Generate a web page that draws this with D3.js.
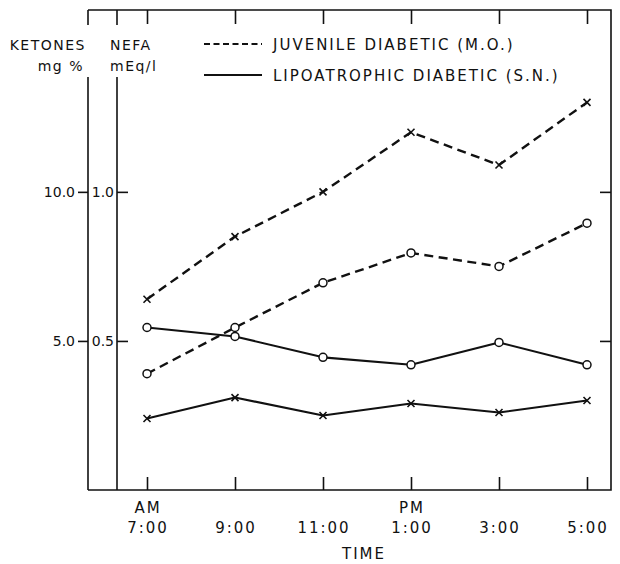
<!DOCTYPE html>
<html>
<head>
<meta charset="utf-8">
<script src="https://cdn.jsdelivr.net/npm/d3@7"></script>
<style>
  body { margin: 0; background: #fff; }
  text { font-family: "DejaVu Sans", sans-serif; fill: #111; }
</style>
</head>
<body>
<script>
// time points along the bottom
var times = ["7:00", "9:00", "11:00", "1:00", "3:00", "5:00"];
var periods = ["AM", "", "", "PM", "", ""];

// ketones (mg %) - circles, NEFA (mEq/l) - crosses
var juvKetones  = [3.9, 5.45, 6.95, 7.95, 7.5, 8.95];
var juvNefa     = [0.64, 0.85, 1.0, 1.2, 1.09, 1.3];
var lipoKetones = [5.45, 5.15, 4.45, 4.2, 4.95, 4.2];
var lipoNefa    = [0.24, 0.31, 0.25, 0.29, 0.26, 0.30];

var ketoneTicks = [5.0, 10.0];
var nefaTicks = [0.5, 1.0];

var legendLabels = ["JUVENILE DIABETIC (M.O.)", "LIPOATROPHIC DIABETIC (S.N.)"];

var W = 620, H = 564;
// frame edges (note: "top" is reserved on window, so use box.*)
var box = {left: 88, nefa: 117, right: 611, top: 10, bottom: 490};

var svg = d3.select("body").append("svg")
    .attr("width", W)
    .attr("height", H);

var x = d3.scalePoint().domain(times).range([147, 587]);
var yK = d3.scaleLinear().domain([0, 16.1]).range([box.bottom, box.top]);
var yN = d3.scaleLinear().domain([0, 1.61]).range([box.bottom, box.top]);

// frame (top, right, bottom) and the two vertical axes
var frame = svg.append("g").attr("stroke", "#111").attr("stroke-width", 1.6).attr("fill", "none");
frame.append("path").attr("d", "M" + box.left + "," + box.top + "H" + box.right + "V" + box.bottom + "H" + box.left);
frame.append("line").attr("x1", box.left).attr("x2", box.left).attr("y1", 77).attr("y2", box.bottom);
frame.append("line").attr("x1", box.nefa).attr("x2", box.nefa).attr("y1", 77).attr("y2", box.bottom);
// short stubs on top where the axis labels break the lines
frame.append("line").attr("x1", box.left).attr("x2", box.left).attr("y1", box.top).attr("y2", 25);
frame.append("line").attr("x1", box.nefa).attr("x2", box.nefa).attr("y1", box.top).attr("y2", 25);

function styleAxis(g) {
  g.select(".domain").remove();
  g.selectAll("line").attr("stroke", "#111").attr("stroke-width", 1.6);
  g.selectAll("text")
    .style("font-family", "DejaVu Sans, sans-serif")
    .style("font-size", "14px")
    .attr("fill", "#111");
}

// ketones axis, ticks outward
svg.append("g")
    .attr("transform", "translate(" + box.left + ",0)")
    .call(d3.axisLeft(yK).tickValues(ketoneTicks).tickSize(10).tickPadding(3).tickFormat(d3.format(".1f")))
    .call(styleAxis);

// NEFA axis, ticks inward, labels between the lines
svg.append("g")
    .attr("transform", "translate(" + box.nefa + ",0)")
    .call(d3.axisLeft(yN).tickValues(nefaTicks).tickSize(-11).tickPadding(3).tickFormat(d3.format(".1f")))
    .call(styleAxis);

// right side ticks
svg.append("g")
    .attr("transform", "translate(" + box.right + ",0)")
    .call(d3.axisLeft(yK).tickValues(ketoneTicks).tickSize(11).tickFormat(""))
    .call(styleAxis);

// bottom ticks pointing up, top ticks pointing down
svg.append("g")
    .attr("transform", "translate(0," + box.bottom + ")")
    .call(d3.axisTop(x).tickSize(13).tickFormat(""))
    .call(styleAxis);
svg.append("g")
    .attr("transform", "translate(0," + box.top + ")")
    .call(d3.axisBottom(x).tickSize(14).tickFormat(""))
    .call(styleAxis);

// time labels
var lab = svg.append("g")
    .style("font-size", "15px")
    .style("letter-spacing", "2px")
    .attr("text-anchor", "middle");
lab.selectAll("text.period").data(times).enter().append("text")
    .attr("class", "period")
    .attr("x", function(d) { return x(d) + 1; })
    .attr("y", 513)
    .text(function(d, i) { return periods[i]; });
lab.selectAll("text.time").data(times).enter().append("text")
    .attr("class", "time")
    .attr("x", function(d) { return x(d) + 1; })
    .attr("y", 533)
    .text(function(d) { return d; });
lab.append("text").attr("x", 364).attr("y", 559).text("TIME");

// axis titles
var titles = svg.append("g").style("font-size", "14px").style("letter-spacing", "1.5px");
titles.append("text").attr("x", 86).attr("y", 50).attr("text-anchor", "end").text("KETONES");
titles.append("text").attr("x", 84).attr("y", 71).attr("text-anchor", "end").text("mg %");
titles.append("text").attr("x", 110).attr("y", 50).text("NEFA");
titles.append("text").attr("x", 110).attr("y", 71).text("mEq/l");

// legend
var legend = svg.append("g");
legend.append("line").attr("x1", 204).attr("x2", 262).attr("y1", 44).attr("y2", 44)
    .attr("stroke", "#111").attr("stroke-width", 1.8).attr("stroke-dasharray", "6,3.5");
legend.append("line").attr("x1", 204).attr("x2", 262).attr("y1", 75).attr("y2", 75)
    .attr("stroke", "#111").attr("stroke-width", 1.8);
legend.selectAll("text").data(legendLabels).enter().append("text")
    .attr("x", 273)
    .attr("y", function(d, i) { return 50 + i * 31; })
    .style("font-size", "15px")
    .style("letter-spacing", "2px")
    .text(function(d) { return d; });

// series
var series = [
  { values: juvNefa, scale: yN, dashed: true, mark: "x" },
  { values: juvKetones, scale: yK, dashed: true, mark: "o" },
  { values: lipoKetones, scale: yK, dashed: false, mark: "o" },
  { values: lipoNefa, scale: yN, dashed: false, mark: "x" }
];

var line = d3.line();

series.forEach(function(s) {
  var pts = s.values.map(function(v, i) { return [x(times[i]), s.scale(v)]; });
  svg.append("path")
      .attr("d", line(pts))
      .attr("fill", "none")
      .attr("stroke", "#111")
      .attr("stroke-width", s.dashed ? 2.4 : 2.1)
      .attr("stroke-linejoin", "round")
      .attr("stroke-dasharray", s.dashed ? "9,5.5" : null);

  var g = svg.append("g");
  if (s.mark === "o") {
    g.selectAll("circle").data(pts).enter().append("circle")
        .attr("cx", function(d) { return d[0]; })
        .attr("cy", function(d) { return d[1]; })
        .attr("r", 4)
        .attr("fill", "#fff")
        .attr("stroke", "#111")
        .attr("stroke-width", 1.5);
  } else {
    var r = 3.5;
    g.selectAll("path").data(pts).enter().append("path")
        .attr("d", function(d) {
          return "M" + (d[0] - r) + "," + (d[1] - r) + "L" + (d[0] + r) + "," + (d[1] + r) +
                 "M" + (d[0] - r) + "," + (d[1] + r) + "L" + (d[0] + r) + "," + (d[1] - r);
        })
        .attr("stroke", "#111")
        .attr("stroke-width", 1.6);
  }
});
</script>
</body>
</html>
